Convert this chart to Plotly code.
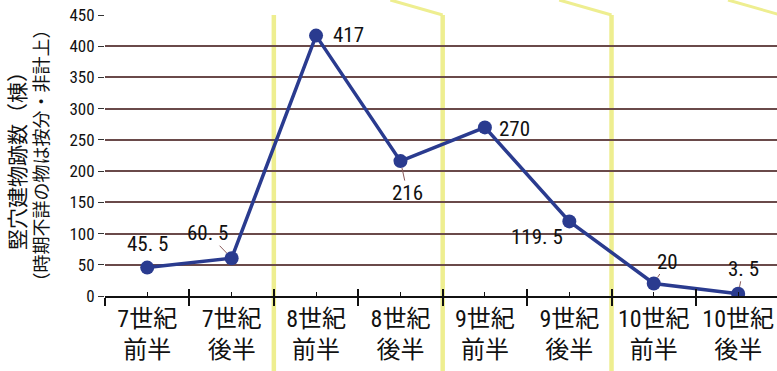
import plotly.graph_objects as go

# Pit-dwelling counts per half-century
periods = ["7世紀<br>前半", "7世紀<br>後半", "8世紀<br>前半", "8世紀<br>後半",
           "9世紀<br>前半", "9世紀<br>後半", "10世紀<br>前半", "10世紀<br>後半"]
counts = [45.5, 60.5, 417, 216, 270, 119.5, 20, 3.5]
y_ticks = [0, 50, 100, 150, 200, 250, 300, 350, 400, 450]

# label offsets (px) from each point, and whether a leader line is drawn
label_dx = [0, -24, 32, 7, 30, -32, 14, 5]
label_dy = [-24, -25, -1, 32, 2, 16, -22, -25]
leader = [False, True, False, True, False, False, True, True]

NUM_FONT = "Roboto Condensed, DejaVu Sans Condensed, DejaVu Sans, sans-serif"
CJK_FONT = "Roboto Condensed, DejaVu Sans Condensed, Noto Sans CJK JP, sans-serif"
LINE_COLOR = "#2a3b8f"
GRID_COLOR = "#6a4a4a"
YELLOW = "#eeee90"

W, H = 777, 371
ML, MR, MT, MB = 105, 0, 15, 75
n = len(periods)
x_range = [-0.5, n - 0.54]

fig = go.Figure()
fig.add_trace(go.Scatter(
    x=periods, y=counts, mode="lines+markers",
    line=dict(color=LINE_COLOR, width=3.5),
    marker=dict(color=LINE_COLOR, size=14),
    hoverinfo="skip", showlegend=False,
))
# helper trace on the linear overlay axis (for the short tick marks)
fig.add_trace(go.Scatter(
    x=list(range(n)), y=counts, xaxis="x2", mode="markers",
    marker=dict(opacity=0), hoverinfo="skip", showlegend=False,
))

def fmt(v):
    return f"{v:g}".replace(".", ". ")

label_font = dict(family=NUM_FONT, size=21, color="#111")
for i, (p, v) in enumerate(zip(periods, counts)):
    if leader[i]:
        fig.add_annotation(
            x=p, y=v, text=fmt(v), showarrow=True, arrowhead=0,
            arrowwidth=1, arrowcolor="#8a5a5a", standoff=7,
            ax=label_dx[i], ay=label_dy[i], borderpad=0, font=label_font,
        )
    else:
        fig.add_annotation(
            x=p, y=v, text=fmt(v), showarrow=False,
            xshift=label_dx[i], yshift=-label_dy[i], font=label_font,
        )

# century separators with their slanted tops
plot_h = H - MT - MB
y_bottom = -MB / plot_h
slant_up = 15 / plot_h
for b in [1.5, 3.5, 5.5, 7.5]:
    if b < x_range[1]:
        fig.add_shape(type="line", xref="x2", yref="paper", x0=b, x1=b,
                      y0=y_bottom, y1=1, line=dict(color=YELLOW, width=4.5),
                      layer="below")
    if b > 2:
        fig.add_shape(type="line", xref="x2", yref="paper", x0=b, x1=b - 0.62,
                      y0=1, y1=1 + slant_up, line=dict(color=YELLOW, width=3),
                      layer="below")

fig.add_annotation(
    xref="paper", yref="paper", x=(26 - ML) / (W - ML - MR), y=0.5,
    textangle=-90, showarrow=False, xanchor="center", yanchor="middle",
    text="<span style='font-size:21px'>竪穴建物跡数（棟）</span><br>（時期不詳の物は按分・非計上）",
    font=dict(family="Noto Sans CJK JP, sans-serif", size=18, color="#111"),
)

fig.update_layout(
    width=W, height=H,
    margin=dict(l=ML, r=MR, t=MT, b=MB),
    paper_bgcolor="white", plot_bgcolor="white",
    xaxis=dict(
        type="category", range=x_range, tickson="boundaries",
        ticks="outside", ticklen=8, tickwidth=1.5, tickcolor="#111",
        showline=True, linecolor="#111", linewidth=1.5,
        showgrid=False,
        tickfont=dict(family=CJK_FONT, size=24, color="#111"),
    ),
    xaxis2=dict(
        overlaying="x", anchor="y", range=x_range, showticklabels=False,
        showgrid=False, zeroline=False, showline=False,
        tickmode="array", tickvals=[i - 0.5 for i in range(n + 1)],
        ticks="inside", ticklen=7, tickwidth=1.5, tickcolor="#111",
        minor=dict(tickmode="array", tickvals=list(range(n)), ticks="inside",
                   ticklen=4, tickwidth=1.2, tickcolor="#111"),
    ),
    yaxis=dict(
        range=[0, 450], tickvals=y_ticks, ticks="outside", ticklen=6,
        tickwidth=1.2, tickcolor="#333", showgrid=True, gridcolor=GRID_COLOR,
        gridwidth=1.5, zeroline=False, showline=False,
        tickfont=dict(family=NUM_FONT, size=17, color="#111"),
    ),
)

fig.write_html("out.html")
